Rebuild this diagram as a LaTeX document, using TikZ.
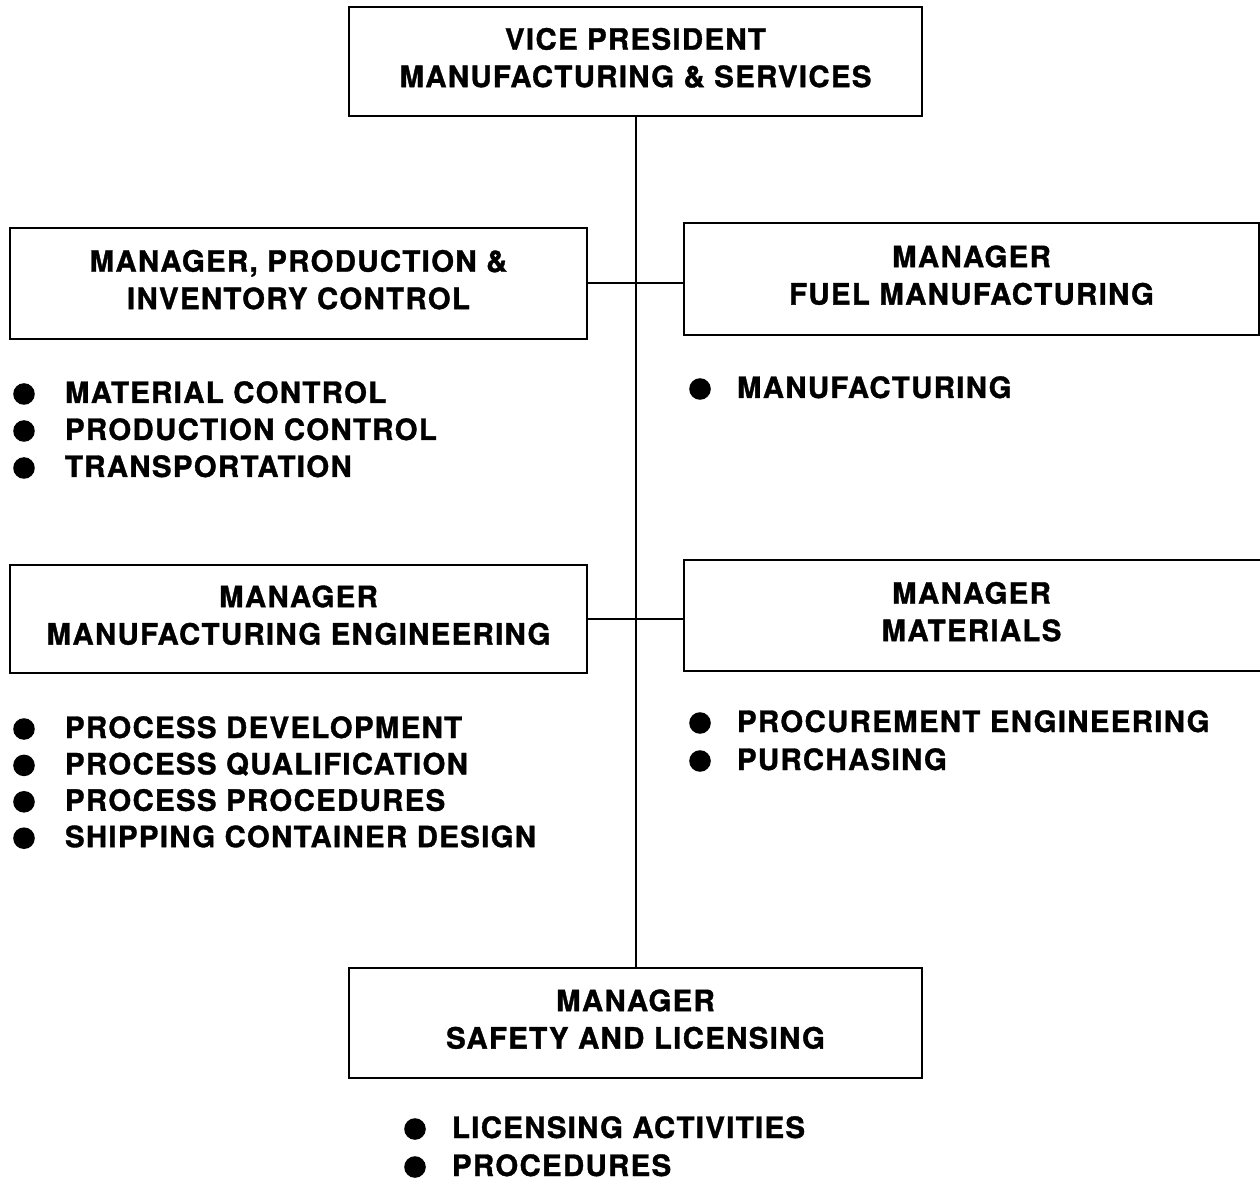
\documentclass[tikz,border=0pt]{standalone}
\usepackage{fontspec}
\setmainfont{TeX Gyre Heros}[LetterSpace=4.5, BoldFeatures={FakeBold=1.2}]
\newcommand\lowpad{\rule[-4pt]{0pt}{0pt}}
\begin{document}
\begin{tikzpicture}[x=0.5pt,y=-0.5pt,
  every node/.style={font=\fontsize{14.7}{18.7}\selectfont\bfseries, inner sep=0pt, outer sep=0pt},
  orgbox/.style={draw, line width=1.4pt, align=center},
  openbox/.style={align=center},
  link/.style={line width=1pt},
  bul/.style={circle, fill, minimum size=10.8pt},
  item/.style={anchor=base west}]
\useasboundingbox (0,0) rectangle (1260,1182);

% management boxes
\node[orgbox, minimum width=286.5pt, minimum height=54.5pt] (vp) at (635.5,61.5)
  {VICE PRESIDENT\\MANUFACTURING \& SERVICES\lowpad};
\node[orgbox, minimum width=288.5pt, minimum height=55.5pt] (pic) at (298.5,283.5)
  {MANAGER, PRODUCTION \&\\INVENTORY CONTROL\lowpad};
\node[orgbox, minimum width=287.5pt, minimum height=56pt] (fuel) at (971.5,279)
  {MANAGER\\FUEL MANUFACTURING\lowpad};
\node[orgbox, minimum width=288.5pt, minimum height=54pt] (meng) at (298.5,619)
  {MANAGER\\MANUFACTURING ENGINEERING\lowpad};
\node[openbox, minimum width=287.5pt, minimum height=55.5pt] (mat) at (971.5,615.5)
  {MANAGER\\MATERIALS\lowpad};
\draw[line width=1.4pt] ([xshift=20pt]mat.north east) -- (mat.north west)
  -- (mat.south west) -- ([xshift=20pt]mat.south east);
\node[orgbox, minimum width=286.5pt, minimum height=55pt] (safe) at (635.5,1023)
  {MANAGER\\SAFETY AND LICENSING\lowpad};

% reporting lines
\draw[link] (vp.south) -- (safe.north);
\draw[link] (pic.east) -- (pic.east -| fuel.west);
\draw[link] (meng.east) -- (meng.east -| mat.west);

% duty lists
\foreach \t [count=\i] in {MATERIAL CONTROL, PRODUCTION CONTROL, TRANSPORTATION} {
  \node[bul] (pa\i) at (24,{394+37*(\i-1)}) {};
  \node[item] (pt\i) at (65,{403+37*(\i-1)}) {\t};
}
\node[bul] (fa1) at (700,389) {};
\node[item] (ft1) at (737,398) {MANUFACTURING};
\foreach \t [count=\i] in {PROCESS DEVELOPMENT, PROCESS QUALIFICATION, PROCESS PROCEDURES, SHIPPING CONTAINER DESIGN} {
  \node[bul] (ma\i) at (24,{729+36.4*(\i-1)}) {};
  \node[item] (mt\i) at (65,{738+36.4*(\i-1)}) {\t};
}
\foreach \t [count=\i] in {PROCUREMENT ENGINEERING, PURCHASING} {
  \node[bul] (ra\i) at (700,{723+38*(\i-1)}) {};
  \node[item] (rt\i) at (737,{732+38*(\i-1)}) {\t};
}
\foreach \t [count=\i] in {LICENSING ACTIVITIES, PROCEDURES} {
  \node[bul] (sa\i) at (415,{1129+38*(\i-1)}) {};
  \node[item] (st\i) at (452,{1138+38*(\i-1)}) {\t};
}
\end{tikzpicture}
\end{document}
